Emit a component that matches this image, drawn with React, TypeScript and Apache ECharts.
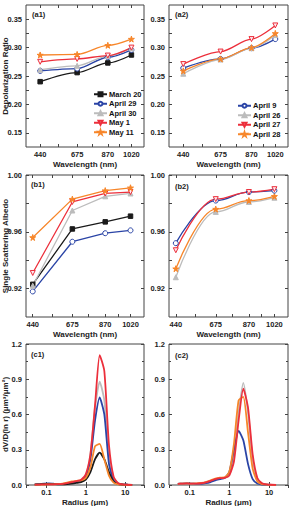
import React, { useEffect, useRef } from "react";
import * as echarts from "echarts";

// ---------- data ----------
const wavelengths = [440, 675, 870, 1020];
const namesLeft = ["March 20", "April 29", "April 30", "May 1", "May 11"];
const namesRight = ["April 9", "April 26", "April 27", "April 28"];

// (a1) depolarization ratio
const depolMarch20 = [0.240, 0.256, 0.273, 0.287];
const depolApril29 = [0.259, 0.263, 0.283, 0.296];
const depolApril30 = [0.261, 0.268, 0.285, 0.299];
const depolMay1 = [0.275, 0.280, 0.286, 0.300];
const depolMay11 = [0.287, 0.288, 0.304, 0.315];
// (a2)
const depolApril9 = [0.264, 0.280, 0.299, 0.315];
const depolApril26 = [0.254, 0.279, 0.299, 0.322];
const depolApril27 = [0.271, 0.293, 0.315, 0.339];
const depolApril28 = [0.259, 0.280, 0.300, 0.325];

// (b1) single scattering albedo
const ssaMarch20 = [0.923, 0.962, 0.967, 0.971];
const ssaApril29 = [0.918, 0.953, 0.959, 0.961];
const ssaApril30 = [0.922, 0.975, 0.985, 0.987];
const ssaMay1 = [0.931, 0.981, 0.987, 0.988];
const ssaMay11 = [0.956, 0.983, 0.989, 0.991];
// (b2)
const ssaApril9 = [0.952, 0.982, 0.988, 0.989];
const ssaApril26 = [0.928, 0.974, 0.981, 0.984];
const ssaApril27 = [0.947, 0.983, 0.988, 0.990];
const ssaApril28 = [0.934, 0.976, 0.982, 0.985];

// (c) volume size distribution, radius in um
const radius = [0.05, 0.0656, 0.0861, 0.1129, 0.1482, 0.1944, 0.2551, 0.3347, 0.4392, 0.5762, 0.7561, 0.992, 1.3016, 1.7078, 2.2407, 2.94, 3.8575, 5.0613, 6.6407, 8.7131, 11.4323, 15.0];
// (c1)
const sdMarch20 = [0.004, 0.006, 0.008, 0.009, 0.008, 0.006, 0.006, 0.008, 0.012, 0.018, 0.025, 0.045, 0.11, 0.22, 0.275, 0.22, 0.11, 0.03, 0.008, 0.004, 0.002, 0.001];
const sdApril29 = [0.005, 0.008, 0.012, 0.014, 0.011, 0.008, 0.008, 0.012, 0.018, 0.025, 0.035, 0.07, 0.22, 0.55, 0.745, 0.6, 0.18, 0.04, 0.01, 0.004, 0.002, 0.001];
const sdApril30 = [0.004, 0.006, 0.008, 0.009, 0.008, 0.007, 0.008, 0.012, 0.018, 0.026, 0.036, 0.075, 0.26, 0.66, 0.88, 0.72, 0.26, 0.06, 0.014, 0.005, 0.002, 0.001];
const sdMay1 = [0.003, 0.004, 0.005, 0.006, 0.006, 0.007, 0.01, 0.016, 0.025, 0.034, 0.045, 0.09, 0.26, 0.68, 1.105, 0.97, 0.34, 0.07, 0.015, 0.005, 0.002, 0.001];
const sdMay11 = [0.002, 0.003, 0.004, 0.005, 0.006, 0.008, 0.012, 0.02, 0.03, 0.036, 0.04, 0.06, 0.15, 0.33, 0.35, 0.22, 0.08, 0.02, 0.006, 0.003, 0.001, 0.001];
// (c2)
const sdApril9 = [0.01, 0.012, 0.013, 0.012, 0.01, 0.01, 0.015, 0.025, 0.04, 0.05, 0.06, 0.11, 0.3, 0.46, 0.38, 0.18, 0.05, 0.012, 0.004, 0.002, 0.001, 0.001];
const sdApril26 = [0.01, 0.012, 0.013, 0.012, 0.012, 0.015, 0.022, 0.035, 0.05, 0.058, 0.06, 0.09, 0.25, 0.62, 0.87, 0.62, 0.22, 0.05, 0.012, 0.004, 0.002, 0.001];
const sdApril27 = [0.01, 0.012, 0.013, 0.012, 0.012, 0.015, 0.022, 0.035, 0.05, 0.058, 0.06, 0.08, 0.2, 0.55, 0.82, 0.66, 0.26, 0.06, 0.015, 0.005, 0.002, 0.001];
const sdApril28 = [0.01, 0.012, 0.013, 0.012, 0.013, 0.017, 0.025, 0.04, 0.055, 0.062, 0.065, 0.11, 0.35, 0.72, 0.75, 0.45, 0.14, 0.03, 0.008, 0.003, 0.001, 0.001];

const depolTicks = [0.15, 0.2, 0.25, 0.3, 0.35];
const ssaTicks = [0.92, 0.96, 1.0];
const wlTicks = [440, 675, 870, 1020];

// ---------- styles ----------
const BLACK = "#1a1a1a";
const BLUE = "#2a44a6";
const GRAY = "#bcbcbc";
const RED = "#ec2f3b";
const ORANGE = "#f7862a";
const STAR = "path://M50,0 L61,35 L98,35 L68,57 L79,91 L50,70 L21,91 L32,57 L2,35 L39,35 Z";
const FONT = "'Liberation Sans', Arial, sans-serif";

type Sty = { color: string; symbol: string; fill: string; rotate?: number; size: number };
const styleOf: Record<string, Sty> = {
  "March 20": { color: BLACK, symbol: "rect", fill: BLACK, size: 4.5 },
  "April 29": { color: BLUE, symbol: "circle", fill: "#ffffff", size: 5 },
  "April 9": { color: BLUE, symbol: "circle", fill: "#ffffff", size: 5 },
  "April 30": { color: GRAY, symbol: "triangle", fill: GRAY, size: 5 },
  "April 26": { color: GRAY, symbol: "triangle", fill: GRAY, size: 5 },
  "May 1": { color: RED, symbol: "triangle", fill: "#fde8ee", rotate: 180, size: 5 },
  "April 27": { color: RED, symbol: "triangle", fill: "#fde8ee", rotate: 180, size: 5 },
  "May 11": { color: ORANGE, symbol: STAR, fill: ORANGE, size: 6 },
  "April 28": { color: ORANGE, symbol: STAR, fill: ORANGE, size: 6 },
};

const grids = [
  { left: 26, top: 5, width: 118, height: 142 },
  { left: 169, top: 5, width: 119, height: 142 },
  { left: 26, top: 175, width: 118, height: 142 },
  { left: 169, top: 175, width: 119, height: 142 },
  { left: 26, top: 344, width: 118, height: 141 },
  { left: 169, top: 344, width: 119, height: 141 },
];

const labelStyle = { fontSize: 7.5, fontWeight: "bold", color: "#222", fontFamily: FONT };
const nameStyle = { fontSize: 8, fontWeight: "bold", color: "#222", fontFamily: FONT };

function wlAxis(i: number, mirror: boolean, min: number, max: number) {
  return {
    type: "value",
    gridIndex: i,
    position: mirror ? "top" : "bottom",
    min,
    max,
    name: mirror ? "" : "Wavelength (nm)",
    nameLocation: "middle",
    nameGap: 13,
    nameMoveOverlap: false,
    nameTextStyle: nameStyle,
    axisLine: { show: false },
    splitLine: { show: false },
    axisTick: { show: true, inside: true, length: 3, customValues: [440, 557, 675, 772, 870, 945, 1020], lineStyle: { color: "#444" } },
    axisLabel: { show: !mirror, margin: 3, customValues: wlTicks, ...labelStyle, formatter: (v: number) => String(Math.round(v)) },
  };
}

function radAxis(i: number, mirror: boolean) {
  return {
    type: "log",
    logBase: 10,
    gridIndex: i,
    position: mirror ? "top" : "bottom",
    min: 0.03,
    max: 30,
    name: mirror ? "" : "Radius (\u03bcm)",
    nameLocation: "middle",
    nameGap: 13,
    nameMoveOverlap: false,
    nameTextStyle: nameStyle,
    axisLine: { show: false },
    splitLine: { show: false },
    axisTick: { show: true, inside: true, length: 3, lineStyle: { color: "#444" } },
    axisLabel: { show: !mirror, margin: 3, showMinLabel: false, showMaxLabel: false, ...labelStyle, formatter: (v: number) => (Math.abs(v - 0.03) < 1e-6 || Math.abs(v - 30) < 1e-6 ? "" : String(v)) },
  };
}

function yAxisFor(i: number, mirror: boolean) {
  const row = Math.floor(i / 2);
  const left = i % 2 === 0;
  const base: any = {
    type: "value",
    gridIndex: i,
    position: mirror ? "right" : "left",
    axisLine: { show: false },
    splitLine: { show: false },
    nameLocation: "middle",
    nameGap: 17,
    nameMoveOverlap: false,
    nameTextStyle: nameStyle,
    name: !mirror && left ? ["Depolarization Ratio", "Single Scattering Albedo", "dV/D(ln r) (\u03bcm\u00b3/\u03bcm\u00b2)"][row] : "",
  };
  if (row === 0) {
    return {
      ...base,
      min: 0.125,
      max: 0.375,
      axisTick: { show: true, inside: true, length: 3, customValues: [0.15, 0.175, 0.2, 0.225, 0.25, 0.275, 0.3, 0.325, 0.35], lineStyle: { color: "#444" } },
      axisLabel: { show: !mirror, margin: 4, customValues: depolTicks, ...labelStyle, formatter: (v: number) => v.toFixed(2) },
    };
  }
  if (row === 1) {
    return {
      ...base,
      min: 0.9,
      max: 1.0,
      axisTick: { show: true, inside: true, length: 3, customValues: [0.92, 0.94, 0.96, 0.98, 1.0], lineStyle: { color: "#444" } },
      axisLabel: { show: !mirror, margin: 4, customValues: ssaTicks, ...labelStyle, formatter: (v: number) => v.toFixed(2) },
    };
  }
  return {
    ...base,
    min: 0,
    max: 1.2,
    interval: 0.3,
    axisTick: { show: true, inside: true, length: 3, lineStyle: { color: "#444" } },
    minorTick: { show: true, splitNumber: 2, length: 2, lineStyle: { color: "#444" } },
    axisLabel: { show: !mirror, margin: 4, ...labelStyle, formatter: (v: number) => v.toFixed(1) },
  };
}

function specSeries(name: string, values: number[], i: number, smooth: number | boolean) {
  const s = styleOf[name];
  return {
    type: "line",
    name,
    xAxisIndex: i,
    yAxisIndex: i,
    data: wavelengths.map((w, k) => [w, values[k]]),
    smooth,
    smoothMonotone: "x",
    symbol: s.symbol,
    symbolSize: s.size,
    symbolRotate: s.rotate || 0,
    lineStyle: { color: s.color, width: 1.3 },
    itemStyle: { color: s.fill, borderColor: s.color, borderWidth: 1 },
    emphasis: { disabled: true },
  };
}

function sdSeries(name: string, values: number[], i: number) {
  const s = styleOf[name];
  return {
    type: "line",
    name,
    xAxisIndex: i,
    yAxisIndex: i,
    data: radius.map((r, k) => [r, values[k]]),
    showSymbol: false,
    symbol: "none",
    smooth: 0.2,
    lineStyle: { color: s.color, width: 1.8 },
    itemStyle: { color: s.color },
    emphasis: { disabled: true },
  };
}

function legendFor(names: string[], left: number, top: number) {
  return {
    orient: "vertical",
    left,
    top,
    itemWidth: 13,
    itemHeight: 5,
    itemGap: 1,
    selectedMode: false,
    data: names,
    textStyle: { fontSize: 7.5, fontWeight: "bold", color: "#111", fontFamily: FONT, lineHeight: 8.5, padding: [0, 0, 0, -3] },
  };
}

function panelLabel(text: string, x: number, y: number) {
  return {
    type: "text",
    x,
    y,
    style: { text, fontSize: 7.5, fontWeight: "bold", fill: "#222", font: `bold 7.5px ${FONT}`, textVerticalAlign: "middle" },
  };
}

export default function App() {
  const ref = useRef<HTMLDivElement>(null);
  useEffect(() => {
    if (!ref.current) return;
    const chart = echarts.init(ref.current, undefined, { renderer: "svg" });
    const option: any = {
      animation: false,
      backgroundColor: "#ffffff",
      grid: grids.map((g) => ({ ...g, show: true, borderColor: "#444", borderWidth: 1, backgroundColor: "transparent", containLabel: false, outerBoundsMode: "none" })),
      xAxis: [
        wlAxis(0, false, 350, 1100),
        wlAxis(1, false, 350, 1100),
        wlAxis(2, false, 400, 1100),
        wlAxis(3, false, 400, 1100),
        radAxis(4, false),
        radAxis(5, false),
        wlAxis(0, true, 350, 1100),
        wlAxis(1, true, 350, 1100),
        wlAxis(2, true, 400, 1100),
        wlAxis(3, true, 400, 1100),
        radAxis(4, true),
        radAxis(5, true),
      ],
      yAxis: [0, 1, 2, 3, 4, 5].map((i) => yAxisFor(i, false)).concat([0, 1, 2, 3, 4, 5].map((i) => yAxisFor(i, true))),
      legend: [legendFor(namesLeft, 88, 85), legendFor(namesRight, 232, 96.5)],
      graphic: [
        panelLabel("(a1)", 32, 14),
        panelLabel("(a2)", 175, 14),
        panelLabel("(b1)", 31, 184),
        panelLabel("(b2)", 175, 186),
        panelLabel("(c1)", 31, 354),
        panelLabel("(c2)", 175, 355),
      ],
      series: [
        specSeries("March 20", depolMarch20, 0, 0.3),
        specSeries("April 29", depolApril29, 0, 0.3),
        specSeries("April 30", depolApril30, 0, 0.3),
        specSeries("May 1", depolMay1, 0, 0.3),
        specSeries("May 11", depolMay11, 0, 0.3),
        specSeries("April 9", depolApril9, 1, 0.3),
        specSeries("April 26", depolApril26, 1, 0.3),
        specSeries("April 27", depolApril27, 1, 0.3),
        specSeries("April 28", depolApril28, 1, 0.3),
        specSeries("March 20", ssaMarch20, 2, false),
        specSeries("April 29", ssaApril29, 2, false),
        specSeries("April 30", ssaApril30, 2, false),
        specSeries("May 1", ssaMay1, 2, false),
        specSeries("May 11", ssaMay11, 2, false),
        specSeries("April 26", ssaApril26, 3, 0.4),
        specSeries("April 28", ssaApril28, 3, 0.4),
        specSeries("April 9", ssaApril9, 3, 0.4),
        specSeries("April 27", ssaApril27, 3, 0.4),
        sdSeries("April 30", sdApril30, 4),
        sdSeries("April 29", sdApril29, 4),
        sdSeries("March 20", sdMarch20, 4),
        sdSeries("May 11", sdMay11, 4),
        sdSeries("May 1", sdMay1, 4),
        sdSeries("April 26", sdApril26, 5),
        sdSeries("April 9", sdApril9, 5),
        sdSeries("April 28", sdApril28, 5),
        sdSeries("April 27", sdApril27, 5),
      ],
    };
    chart.setOption(option);
    return () => chart.dispose();
  }, []);
  return <div ref={ref} style={{ position: "fixed", left: 0, top: 0, width: 290, height: 506, background: "#fff" }} />;
}
